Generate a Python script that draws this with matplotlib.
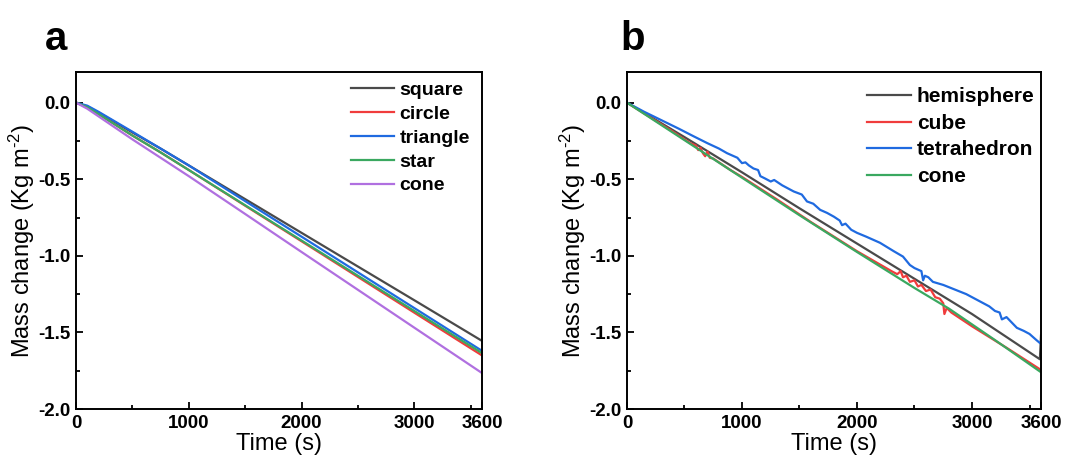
import numpy as np
import matplotlib
matplotlib.use('Agg')
import matplotlib.pyplot as plt
from matplotlib.ticker import MultipleLocator

plt.rcParams['font.family'] = ['Liberation Sans', 'DejaVu Sans']
plt.rcParams['axes.unicode_minus'] = False
plt.rcParams['mathtext.default'] = 'regular'

# ---- panel a: plain shapes ----
t_a = [0, 100, 200, 350, 500, 750, 1000, 1500, 2000, 2500, 3000, 3600]
square = [0, -0.025, -0.065, -0.13, -0.195, -0.30, -0.41, -0.63, -0.85, -1.07, -1.29, -1.555]
circle = [0, -0.03, -0.075, -0.145, -0.215, -0.325, -0.44, -0.673, -0.905, -1.138, -1.371, -1.65]
triangle = [0, -0.02, -0.06, -0.125, -0.19, -0.30, -0.41, -0.643, -0.875, -1.108, -1.341, -1.62]
star = [0, -0.03, -0.075, -0.145, -0.215, -0.325, -0.44, -0.67, -0.90, -1.13, -1.36, -1.635]
cone_a = [0, -0.04, -0.09, -0.165, -0.24, -0.36, -0.48, -0.727, -0.975, -1.222, -1.469, -1.765]

# ---- panel b: 3D shapes ----
t_hemi = [0, 500, 1000, 1500, 2000, 2500, 3000, 3590, 3600]
hemisphere = [0, -0.225, -0.455, -0.69, -0.92, -1.15, -1.38, -1.675, -1.52]

t_cube = [0, 200, 400, 550, 600, 620, 640, 660, 680, 700, 720, 750, 800, 900, 1000,
          1300, 1600, 2000, 2300, 2350, 2380, 2400, 2430, 2460, 2500, 2530, 2560,
          2600, 2640, 2680, 2720, 2750, 2760, 2780, 2820, 3000, 3300, 3600]
cube = [0, -0.095, -0.19, -0.265, -0.28, -0.31, -0.295, -0.33, -0.35, -0.32, -0.36,
        -0.365, -0.39, -0.44, -0.485, -0.63, -0.78, -0.97, -1.10, -1.12, -1.10, -1.14,
        -1.13, -1.17, -1.16, -1.20, -1.19, -1.23, -1.22, -1.27, -1.28, -1.31, -1.38,
        -1.34, -1.37, -1.46, -1.60, -1.745]

t_tetra = [0, 150, 300, 450, 580, 700, 800, 870, 930, 960, 1000, 1030, 1060, 1100,
           1140, 1160, 1200, 1250, 1280, 1350, 1450, 1520, 1565, 1620, 1680, 1740,
           1800, 1850, 1870, 1900, 1950, 2000, 2080, 2200, 2320, 2400, 2460, 2500,
           2530, 2560, 2575, 2590, 2620, 2660, 2750, 2850, 2950, 3050, 3150, 3200,
           3240, 3260, 3300, 3390, 3450, 3500, 3560, 3600]
tetrahedron = [0, -0.06, -0.115, -0.17, -0.22, -0.265, -0.30, -0.33, -0.35, -0.36,
               -0.395, -0.39, -0.41, -0.43, -0.44, -0.48, -0.495, -0.515, -0.505, -0.54,
               -0.58, -0.60, -0.645, -0.66, -0.70, -0.72, -0.745, -0.77, -0.80, -0.79,
               -0.83, -0.85, -0.875, -0.915, -0.97, -1.005, -1.06, -1.08, -1.09, -1.10,
               -1.16, -1.13, -1.14, -1.17, -1.19, -1.22, -1.25, -1.29, -1.33, -1.36,
               -1.37, -1.415, -1.40, -1.47, -1.49, -1.51, -1.55, -1.575]

t_cone_b = [0, 500, 1000, 1500, 2000, 2500, 2800, 3200, 3600]
cone_b = [0, -0.245, -0.49, -0.735, -0.975, -1.21, -1.345, -1.55, -1.76]

BLACK = '#4a4a4a'
RED = '#f03c3c'
BLUE = '#1f6ae0'
GREEN = '#3aa860'
PURPLE = '#b070e0'


def style_axes(ax):
    ax.set_xlim(0, 3600)
    ax.set_ylim(-2.0, 0.2)
    ax.set_xticks([0, 1000, 2000, 3000, 3600])
    ax.xaxis.set_minor_locator(MultipleLocator(500))
    ax.set_yticks([0.0, -0.5, -1.0, -1.5, -2.0])
    ax.yaxis.set_minor_locator(MultipleLocator(0.25))
    ax.tick_params(which='both', direction='in', top=False, right=False, width=1.3)
    ax.tick_params(which='major', length=5, labelsize=13.5)
    ax.tick_params(axis='x', which='major', pad=4)
    ax.tick_params(axis='y', which='major', pad=4)
    ax.tick_params(which='minor', length=3)
    for lab in ax.get_xticklabels() + ax.get_yticklabels():
        lab.set_fontweight('bold')
    for s in ax.spines.values():
        s.set_linewidth(1.4)
    ax.set_xlabel('Time (s)', fontsize=17, labelpad=1)
    ax.set_ylabel('Mass change (Kg m$^{\u20102}$)', fontsize=17, labelpad=1)


fig = plt.figure(figsize=(10.71, 4.57), dpi=100)
ax1 = fig.add_axes([0.071, 0.105, 0.379, 0.7375])
ax2 = fig.add_axes([0.5854, 0.105, 0.3866, 0.7375])

lw = 1.6
ax1.plot(t_a, square, color=BLACK, lw=lw, label='square')
ax1.plot(t_a, circle, color=RED, lw=lw, label='circle')
ax1.plot(t_a, triangle, color=BLUE, lw=lw, label='triangle')
ax1.plot(t_a, star, color=GREEN, lw=lw, label='star')
ax1.plot(t_a, cone_a, color=PURPLE, lw=lw, label='cone')
style_axes(ax1)
ax1.legend(loc='upper right', bbox_to_anchor=(0.99, 0.995), frameon=False,
           prop={'weight': 'bold', 'size': 14},
           handlelength=2.2, handletextpad=0.3, labelspacing=0.32,
           borderaxespad=0.2, borderpad=0.2)

ax2.plot(t_hemi, hemisphere, color=BLACK, lw=lw, label='hemisphere')
ax2.plot(t_cube, cube, color=RED, lw=lw, label='cube')
ax2.plot(t_tetra, tetrahedron, color=BLUE, lw=lw, label='tetrahedron')
ax2.plot(t_cone_b, cone_b, color=GREEN, lw=lw, label='cone')
style_axes(ax2)
ax2.legend(loc='upper right', bbox_to_anchor=(1.01, 0.985), frameon=False,
           prop={'weight': 'bold', 'size': 15},
           handlelength=2.1, handletextpad=0.3, labelspacing=0.36,
           borderaxespad=0.2, borderpad=0.3)

fig.text(0.042, 0.89, 'a', fontsize=29, fontweight='bold')
fig.text(0.579, 0.89, 'b', fontsize=29, fontweight='bold')

fig.savefig('out.png', dpi=100)
